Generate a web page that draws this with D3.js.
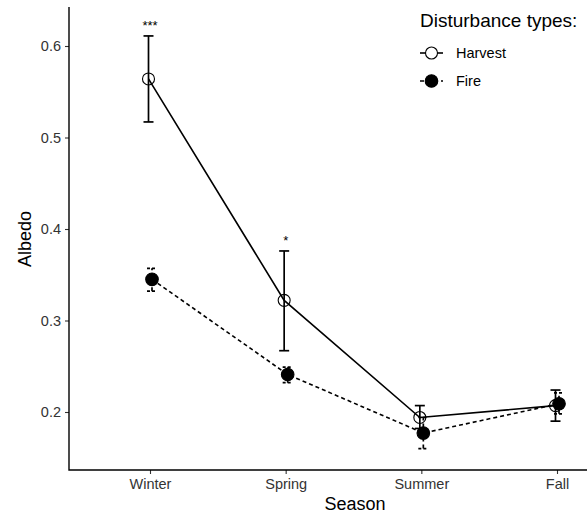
<!DOCTYPE html>
<html>
<head>
<meta charset="utf-8">
<script src="https://cdn.jsdelivr.net/npm/d3@7"></script>
<style>
  html, body { margin: 0; padding: 0; background: #fff; }
  svg { display: block; font-family: "Liberation Sans", Arial, Helvetica, sans-serif; }
</style>
</head>
<body>
<svg id="chart" width="587" height="518"></svg>
<script>
// Seasonal albedo by disturbance type (mean ± error)
const seasons = ["Winter", "Spring", "Summer", "Fall"];
const harvestMean = [0.564, 0.322, 0.194, 0.207];
const harvestLow  = [0.517, 0.267, 0.182, 0.190];
const harvestHigh = [0.611, 0.376, 0.207, 0.224];
const fireMean = [0.345, 0.241, 0.177, 0.209];
const fireLow  = [0.332, 0.232, 0.160, 0.198];
const fireHigh = [0.357, 0.249, 0.194, 0.221];
const significance = ["***", "*", "", ""];
const yTicks = [0.2, 0.3, 0.4, 0.5, 0.6];

const svg = d3.select("#chart");
const panelLeft = 69, panelTop = 7, panelBottom = 470;

const x = d3.scalePoint().domain(seasons).range([150, 557]);
const y = d3.scaleLinear().domain([0.2, 0.6]).range([412, 46]);

const series = [
  { name: "Harvest", mean: harvestMean, low: harvestLow, high: harvestHigh, dash: null, shift: -1.5 },
  { name: "Fire", mean: fireMean, low: fireLow, high: fireHigh, dash: "4,3", shift: 2 }
];

// Axes
const yAxis = svg.append("g").attr("transform", `translate(${panelLeft},0)`)
  .call(d3.axisLeft(y).tickValues(yTicks).tickFormat(d3.format(".1f")).tickSize(4).tickPadding(4));
const xAxis = svg.append("g").attr("transform", `translate(0,${panelBottom})`)
  .call(d3.axisBottom(x).tickSize(4).tickPadding(5));
[yAxis, xAxis].forEach(g => {
  g.select(".domain").remove();
  g.selectAll(".tick line").attr("stroke", "#333").attr("stroke-width", 1.1);
  g.selectAll(".tick text").attr("fill", "#333").style("font-size", "14.5px").style("font-family", "Liberation Sans, Arial, sans-serif");
});
svg.append("path")
  .attr("d", `M${panelLeft},${panelTop}V${panelBottom}H587`)
  .attr("fill", "none").attr("stroke", "#000").attr("stroke-width", 1.4);

// Lines, error bars, points
series.forEach(s => {
  const pts = seasons.map((k, i) => ({ k, i, xv: x(k) + s.shift }));
  svg.append("path")
    .datum(pts)
    .attr("d", d3.line().x(d => d.xv).y(d => y(s.mean[d.i])))
    .attr("fill", "none").attr("stroke", "#000").attr("stroke-width", 1.6)
    .attr("stroke-dasharray", s.dash);

  const eb = svg.append("g").selectAll("g").data(pts).join("g");
  eb.append("line")
    .attr("x1", d => d.xv).attr("x2", d => d.xv)
    .attr("y1", d => y(s.low[d.i])).attr("y2", d => y(s.high[d.i]))
    .attr("stroke", "#000").attr("stroke-width", 1.7).attr("stroke-dasharray", s.dash);
  ["low", "high"].forEach(key => {
    eb.append("line")
      .attr("x1", d => d.xv - 5).attr("x2", d => d.xv + 5)
      .attr("y1", d => y(s[key][d.i])).attr("y2", d => y(s[key][d.i]))
      .attr("stroke", "#000").attr("stroke-width", 1.7).attr("stroke-dasharray", s.dash ? "3,2" : null);
  });

  svg.append("g").selectAll("circle").data(pts).join("circle")
    .attr("cx", d => d.xv).attr("cy", d => y(s.mean[d.i]))
    .attr("r", s.name === "Fire" ? 6.3 : 6)
    .attr("fill", s.name === "Fire" ? "#000" : "none")
    .attr("stroke", "#000").attr("stroke-width", 1.1);
});

// Significance markers above the harvest error bars
svg.append("g").selectAll("text").data(seasons.filter((k, i) => significance[i]))
  .join("text")
  .attr("x", k => x(k))
  .attr("y", k => y(harvestHigh[seasons.indexOf(k)]) - 6)
  .attr("text-anchor", "middle")
  .style("font-size", "13px")
  .text(k => significance[seasons.indexOf(k)]);

// Axis titles
svg.append("text").attr("x", 355).attr("y", 510).attr("text-anchor", "middle")
  .style("font-size", "18px").text("Season");
svg.append("text").attr("transform", "translate(31,239) rotate(-90)").attr("text-anchor", "middle")
  .style("font-size", "18px").text("Albedo");

// Legend
const legend = svg.append("g").attr("transform", "translate(420,0)");
legend.append("text").attr("x", 0).attr("y", 27).style("font-size", "19px").text("Disturbance types:");
series.forEach((s, i) => {
  const cy = 53 + i * 28;
  legend.append("line").attr("x1", 0).attr("x2", 23).attr("y1", cy).attr("y2", cy)
    .attr("stroke", "#000").attr("stroke-width", 1.6).attr("stroke-dasharray", s.dash);
  legend.append("circle").attr("cx", 11.5).attr("cy", cy).attr("r", s.name === "Fire" ? 6.3 : 6)
    .attr("fill", s.name === "Fire" ? "#000" : "#fff").attr("stroke", "#000").attr("stroke-width", 1.1);
  legend.append("text").attr("x", 36).attr("y", cy + 5).style("font-size", "14.5px").text(s.name);
});
</script>
</body>
</html>
